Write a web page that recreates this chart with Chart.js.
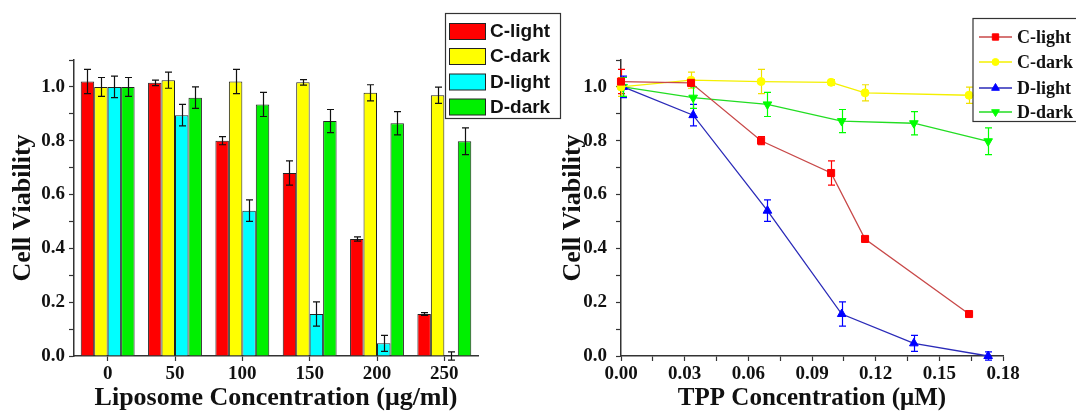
<!DOCTYPE html>
<html><head><meta charset="utf-8">
<script src="https://cdn.jsdelivr.net/npm/chart.js@4"></script>
<style>
html,body{margin:0;padding:0;background:#fff;width:1076px;height:414px;overflow:hidden;}
#c1{position:absolute;left:0;top:0;}
#c2{position:absolute;left:540px;top:0;}
</style></head><body>
<canvas id="c1" width="565" height="414"></canvas>
<canvas id="c2" width="536" height="414"></canvas>
<script>
// ---- data ----
const seriesNames = ['C-light', 'C-dark', 'D-light', 'D-dark'];
const liposomeLabels = ['0', '50', '100', '150', '200', '250'];
const cLight = [1.02, 1.015, 0.80, 0.68, 0.435, 0.156];
const cLightErr = [0.045, 0.01, 0.015, 0.045, 0.008, 0.005];
const cDark = [1.00, 1.025, 1.02, 1.017, 0.978, 0.969];
const cDarkErr = [0.035, 0.03, 0.045, 0.01, 0.03, 0.03];
const dLight = [1.00, 0.895, 0.54, 0.156, 0.047, 0.0];
const dLightErr = [0.04, 0.04, 0.04, 0.045, 0.03, 0.015];
const dDark = [1.00, 0.96, 0.935, 0.873, 0.865, 0.798];
const dDarkErr = [0.035, 0.04, 0.045, 0.043, 0.043, 0.05];
const cTPP = [0.0, 0.033, 0.066, 0.099, 0.115, 0.164];
const dTPP = [0.001, 0.034, 0.069, 0.104, 0.138, 0.173];

const barColors = ['#ff0000', '#ffff00', '#00ffff', '#00f000'];
const lineColors = ['#c84848', '#f4f000', '#2a2ab8', '#22dd22'];
const markColors = ['#ff0000', '#ffff00', '#0000ff', '#00ff00'];
const markStyles = ['rect', 'circle', 'triangle', 'triangle'];
const markRot = [0, 0, 0, 180];
const markRad = [5, 4, 5, 5];

const SERIF = "'Liberation Serif','Times New Roman',serif";
const SANS = "'Liberation Sans',Arial,sans-serif";
const AX = '#333';

// ---- plugins ----
const errorBars = {
  id: 'errorBars',
  draw(chart, opts) {
    const ctx = chart.ctx, ys = chart.scales.y;
    ctx.save();
    chart.data.datasets.forEach((ds, i) => {
      const meta = chart.getDatasetMeta(i);
      ctx.strokeStyle = ds.errColor || '#000';
      ctx.lineWidth = 1.2;
      meta.data.forEach((el, j) => {
        const d = ds.data[j];
        const v = (typeof d === 'object') ? d.y : d;
        const e = ds.errors[j];
        const x = Math.round(el.x) + 0.5;
        const yt = ys.getPixelForValue(v + e), yb = ys.getPixelForValue(v - e);
        const w = opts.cap || 3.5;
        ctx.beginPath();
        ctx.moveTo(x, yt); ctx.lineTo(x, yb);
        ctx.moveTo(x - w, yt); ctx.lineTo(x + w, yt);
        ctx.moveTo(x - w, yb); ctx.lineTo(x + w, yb);
        ctx.stroke();
      });
    });
    ctx.restore();
  },
  beforeDatasetsDraw(chart, args, opts) { if (opts.layer === 'below') this.draw(chart, opts); },
  afterDatasetsDraw(chart, args, opts) { if (opts.layer !== 'below') this.draw(chart, opts); }
};

function drawMarker(ctx, style, rot, r, x, y, color) {
  ctx.save();
  ctx.fillStyle = color; ctx.strokeStyle = color; ctx.lineWidth = 1;
  Chart.helpers.drawPoint(ctx, {pointStyle: style, radius: r, rotation: rot, borderWidth: 1}, x, y);
  ctx.restore();
}

const boxLegend = {
  id: 'boxLegend',
  afterDraw(chart, args, o) {
    const ctx = chart.ctx;
    ctx.save();
    ctx.strokeStyle = '#333'; ctx.lineWidth = 1.2;
    ctx.strokeRect(o.box[0] + 0.5, o.box[1] + 0.5, o.box[2], o.box[3]);
    ctx.font = o.font; ctx.fillStyle = '#111'; ctx.textBaseline = 'middle'; ctx.textAlign = 'left';
    seriesNames.forEach((name, i) => {
      const y = o.rows[i];
      if (o.kind === 'bar') {
        ctx.fillStyle = barColors[i];
        ctx.fillRect(o.sx + 0.5, y - 8 + 0.5, o.sw, 16);
        ctx.strokeStyle = '#222'; ctx.lineWidth = 1;
        ctx.strokeRect(o.sx + 0.5, y - 8 + 0.5, o.sw, 16);
      } else {
        ctx.strokeStyle = lineColors[i]; ctx.lineWidth = 1.3;
        ctx.beginPath(); ctx.moveTo(o.sx, y); ctx.lineTo(o.sx + o.sw, y); ctx.stroke();
        drawMarker(ctx, markStyles[i], markRot[i], markRad[i] - 0.5, o.sx + o.sw / 2, y, markColors[i]);
      }
      ctx.fillStyle = '#111';
      ctx.fillText(name, o.tx, y + 1);
    });
    ctx.restore();
  }
};

function axisCommon(extra) {
  return Object.assign({
    grid: {drawOnChartArea: false, drawTicks: true, tickLength: 5, color: AX, tickWidth: 1.2},
    border: {display: true, color: AX, width: 1.5}
  }, extra);
}
const tickFont = {family: SERIF, weight: 'bold', size: 19};
const titleFont = {family: SERIF, weight: 'bold', size: 26};
const yTicksCb = v => (Math.round(v * 10) % 2 === 0 ? v.toFixed(1) : '');

// ---- left: bar chart ----
new Chart(document.getElementById('c1'), {
  type: 'bar',
  data: {
    labels: liposomeLabels,
    datasets: [cLight, cDark, dLight, dDark].map((arr, i) => ({
      label: seriesNames[i], data: arr,
      errors: [cLightErr, cDarkErr, dLightErr, dDarkErr][i],
      backgroundColor: barColors[i], borderColor: '#222', borderWidth: 1,
      barPercentage: 1.0, categoryPercentage: 0.8, errColor: '#111'
    }))
  },
  options: {
    responsive: false, animation: false, devicePixelRatio: 1,
    layout: {padding: {left: 0, top: 60, right: 87, bottom: 0}},
    plugins: {
      legend: {display: false}, tooltip: {enabled: false},
      errorBars: {layer: 'above', cap: 3.5},
      boxLegend: {kind: 'bar', box: [445, 13, 115, 105], rows: [31, 56, 81.5, 106.5], sx: 449, sw: 36, tx: 490,
                  font: 'bold 19px ' + SANS}
    },
    scales: {
      x: axisCommon({
        type: 'category', offset: true,
        grid: {offset: false, drawOnChartArea: false, drawTicks: true, tickLength: 5, color: AX, tickWidth: 1.2},
        ticks: {font: tickFont, color: '#111', padding: 2, maxRotation: 0, autoSkip: false},
        title: {display: true, text: 'Liposome Concentration (μg/ml)', font: titleFont, color: '#111', padding: {top: 0, bottom: 0}},
        afterFit(s) { s.height = 58; }
      }),
      y: axisCommon({
        min: 0, max: 1.1,
        ticks: {stepSize: 0.1, font: tickFont, color: '#111', padding: 4, callback: yTicksCb, autoSkip: false},
        title: {display: true, text: 'Cell Viability', font: titleFont, color: '#111', padding: {top: 7.5, bottom: 0}},
        afterFit(s) { s.width = 74; }
      })
    }
  },
  plugins: [errorBars, boxLegend]
});

// ---- right: line chart ----
const lineSets = [[cTPP, cLight, cLightErr], [cTPP, cDark, cDarkErr], [dTPP, dLight, dLightErr], [dTPP, dDark, dDarkErr]];
new Chart(document.getElementById('c2'), {
  type: 'line',
  data: {
    datasets: lineSets.map((s, i) => ({
      label: seriesNames[i],
      data: s[0].map((x, j) => ({x: x, y: s[1][j]})),
      errors: s[2], errColor: markColors[i] === '#ffff00' ? '#f0e000' : markColors[i],
      borderColor: lineColors[i], borderWidth: 1.3,
      pointStyle: markStyles[i], pointRotation: markRot[i], pointRadius: markRad[i],
      pointBackgroundColor: markColors[i], pointBorderColor: markColors[i], pointBorderWidth: 1,
      tension: 0, clip: false
    }))
  },
  options: {
    responsive: false, animation: false, devicePixelRatio: 1,
    layout: {padding: {left: 0, top: 60, right: 73, bottom: 0}},
    plugins: {
      legend: {display: false}, tooltip: {enabled: false},
      errorBars: {layer: 'below', cap: 3.5},
      boxLegend: {kind: 'line', box: [432.5, 18, 200, 103], rows: [37, 62, 88, 112], sx: 439, sw: 33, tx: 477,
                  font: 'bold 18px ' + SERIF}
    },
    scales: {
      x: axisCommon({
        type: 'linear', min: 0, max: 0.18,
        ticks: {stepSize: 0.015, font: tickFont, color: '#111', padding: 2, maxRotation: 0, autoSkip: false,
                callback: v => (Math.round(v / 0.015) % 2 === 0 ? v.toFixed(2) : '')},
        title: {display: true, text: 'TPP Concentration (μM)', font: {family: SERIF, weight: 'bold', size: 25}, color: '#111', padding: {top: 0, bottom: 0}},
        afterFit(s) { s.height = 58; }
      }),
      y: axisCommon({
        min: 0, max: 1.1,
        ticks: {stepSize: 0.1, font: tickFont, color: '#111', padding: 9, callback: yTicksCb, autoSkip: false},
        title: {display: true, text: 'Cell Viability', font: titleFont, color: '#111', padding: {top: 17.5, bottom: 0}},
        afterFit(s) { s.width = 81; }
      })
    }
  },
  plugins: [errorBars, boxLegend]
});
</script>
</body></html>
